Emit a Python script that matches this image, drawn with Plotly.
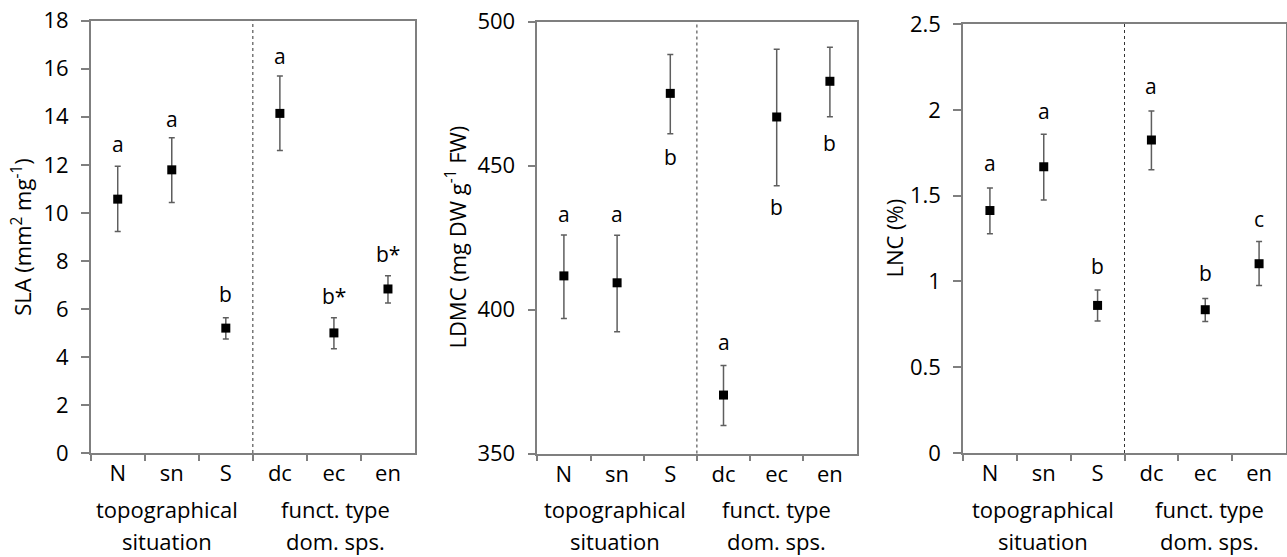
import plotly.graph_objects as go

categories = ["N", "sn", "S", "dc", "ec", "en"]

# SLA
sla_mean = [10.57, 11.79, 5.20, 14.14, 5.00, 6.83]
sla_upper = [11.94, 13.13, 5.63, 15.70, 5.63, 7.38]
sla_lower = [9.22, 10.43, 4.75, 12.60, 4.34, 6.25]
sla_letters = ["a", "a", "b", "a", "b*", "b*"]
sla_letter_y = [12.88, 13.92, 6.60, 16.52, 6.53, 8.28]

# LDMC
ldmc_mean = [411.7, 409.3, 475.1, 370.3, 466.9, 479.3]
ldmc_upper = [425.9, 425.8, 488.6, 380.6, 490.4, 491.1]
ldmc_lower = [396.9, 392.3, 461.1, 359.7, 443.0, 467.0]
ldmc_letters = ["a", "a", "b", "a", "b", "b"]
ldmc_letter_y = [433.3, 433.3, 453.1, 388.6, 435.6, 458.0]

# LNC
lnc_mean = [1.413, 1.668, 0.860, 1.824, 0.835, 1.103]
lnc_upper = [1.544, 1.858, 0.950, 1.993, 0.900, 1.232]
lnc_lower = [1.278, 1.475, 0.769, 1.650, 0.767, 0.976]
lnc_letters = ["a", "a", "b", "a", "b", "c"]
lnc_letter_y = [1.69, 1.995, 1.09, 2.14, 1.05, 1.363]

group_left = ["topographical", "situation"]
group_right = ["funct. type", "dom. sps."]

y_titles = ["SLA (mm<sup>2</sup> mg<sup>-1</sup>)",
            "LDMC (mg DW g<sup>-1</sup> FW)",
            "LNC (%)"]
y_ranges = [[0, 18], [350, 500], [0, 2.5]]
y_tickvals = [[0, 2, 4, 6, 8, 10, 12, 14, 16, 18],
              [350, 400, 450, 500],
              [0, 0.5, 1, 1.5, 2, 2.5]]
y_ticktext = [["0", "2", "4", "6", "8", "10", "12", "14", "16", "18"],
              ["350", "400", "450", "500"],
              ["0", "0.5", "1", "1.5", "2", "2.5"]]

W, H = 1287, 557
FONT = "Open Sans"
TXT = "#000000"
LINE = "#7f7f7f"

# panel pixel boxes (left, right, top, bottom)
boxes = [(90.7, 415.0, 20.7, 453.0),
         (537.3, 856.5, 21.7, 453.5),
         (963.0, 1286.0, 24.0, 453.0)]
ytitle_x = [22, 456, 894]
group_x = [(0.92, 4.02), (0.96, 4.0), (0.98, 4.08)]

panels = [
    (sla_mean, sla_upper, sla_lower, sla_letters, sla_letter_y),
    (ldmc_mean, ldmc_upper, ldmc_lower, ldmc_letters, ldmc_letter_y),
    (lnc_mean, lnc_upper, lnc_lower, lnc_letters, lnc_letter_y),
]

fig = go.Figure()
annotations = []
shapes = []
layout = {}

for i, (mean, up, lo, letters, ly) in enumerate(panels):
    n = "" if i == 0 else str(i + 1)
    xa, ya = "x" + n, "y" + n
    fig.add_trace(go.Scatter(
        x=categories, y=mean, xaxis=xa, yaxis=ya, mode="markers",
        marker=dict(symbol="square", size=9, color="black"),
        error_y=dict(type="data", symmetric=False,
                     array=[u - m for u, m in zip(up, mean)],
                     arrayminus=[m - l for m, l in zip(mean, lo)],
                     color="#5e5e5e", thickness=1.5, width=3),
        showlegend=False, cliponaxis=False))
    l, r, t, b = boxes[i]
    layout["xaxis" + n] = dict(
        domain=[l / W, r / W], anchor=ya, type="category",
        categoryorder="array", categoryarray=categories,
        range=[-0.5, 5.5], tickson="boundaries", ticks="outside",
        ticklen=6, tickwidth=1.5, tickcolor=LINE,
        showline=True, linecolor=LINE, linewidth=1.5, mirror=True,
        showgrid=False, zeroline=False, automargin=False,
        ticklabelstandoff=0,
        tickfont=dict(family=FONT, size=22, color=TXT), fixedrange=True)
    layout["yaxis" + n] = dict(
        domain=[1 - b / H, 1 - t / H], anchor=xa, range=y_ranges[i],
        tickvals=y_tickvals[i], ticktext=y_ticktext[i],
        ticks="outside", ticklen=8, tickwidth=1.5, tickcolor=LINE,
        showline=True, linecolor=LINE, linewidth=1.5, mirror=True,
        showgrid=False, zeroline=False, automargin=False,
        ticklabelstandoff=8,
        tickfont=dict(family=FONT, size=22, color=TXT), fixedrange=True)
    # separator
    shapes.append(dict(type="line", xref=xa, yref=ya + " domain",
                       x0=2.5, x1=2.5, y0=0, y1=1,
                       line=dict(color="#333333", width=1, dash="dot")))
    # letters
    for c, txt, yy in zip(categories, letters, ly):
        annotations.append(dict(x=c, y=yy, xref=xa, yref=ya, text=txt,
                                showarrow=False, xanchor="center", yanchor="middle",
                                font=dict(family=FONT, size=21, color=TXT)))
    # y title
    annotations.append(dict(x=ytitle_x[i] / W, y=1 - (t + b) / 2 / H,
                            xref="paper", yref="paper", text=y_titles[i],
                            textangle=-90, showarrow=False,
                            xanchor="center", yanchor="middle",
                            font=dict(family=FONT, size=22, color=TXT)))
    # group labels
    gl, gr = group_x[i]
    for j, yy in enumerate([509, 541]):
        annotations.append(dict(x=gl, y=1 - yy / H, xref=xa, yref="paper",
                                text=group_left[j], showarrow=False,
                                xanchor="center", yanchor="middle",
                                font=dict(family=FONT, size=22, color=TXT)))
        annotations.append(dict(x=gr, y=1 - yy / H, xref=xa, yref="paper",
                                text=group_right[j], showarrow=False,
                                xanchor="center", yanchor="middle",
                                font=dict(family=FONT, size=22, color=TXT)))

fig.update_layout(**layout)
fig.update_layout(width=W, height=H, margin=dict(l=0, r=0, t=0, b=0),
                  paper_bgcolor="white", plot_bgcolor="white",
                  annotations=annotations, shapes=shapes,
                  font=dict(family=FONT, color=TXT))
fig.write_html("out.html", config={"displayModeBar": False})
